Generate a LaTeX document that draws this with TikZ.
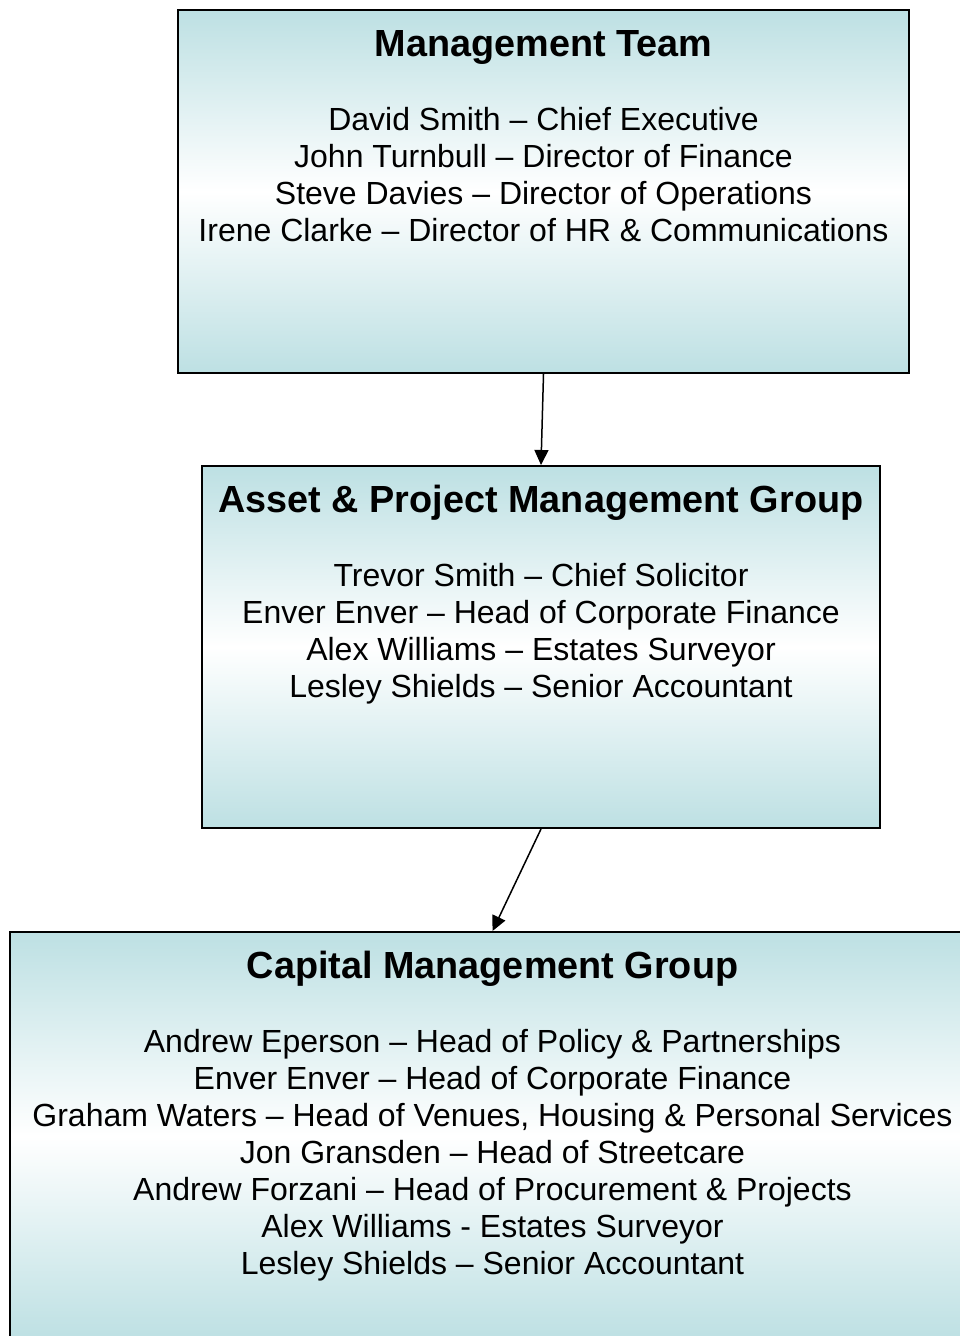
\documentclass[tikz,border=0pt]{standalone}
\usepackage{fontspec}
\setmainfont{Liberation Sans}
\usetikzlibrary{arrows.meta}
\definecolor{groupcyan}{RGB}{189,224,227}
\begin{document}
\begin{tikzpicture}[x=1pt,y=1pt]
  \tikzstyle{group}=[draw=black, line width=2pt, top color=groupcyan,
    bottom color=groupcyan, middle color=white, inner sep=0pt]
  \tikzstyle{title}=[anchor=base, inner sep=0pt, font=\fontsize{37.8}{42}\selectfont\bfseries]
  % base of a multi-line node is its last line
  \tikzstyle{members}=[anchor=base, inner sep=0pt, align=center,
    font=\fontsize{32}{37}\selectfont]
  \tikzstyle{link}=[line width=1.5pt, -{Triangle[length=15pt,width=14pt]}]
  \useasboundingbox (0,0) rectangle (960,-1336);

  \node[group, minimum width=731pt, minimum height=363pt] (mt) at (543.5,-191.5) {};
  \node[title] (mtTitle) at ([yshift=-47pt]mt.north) {Management Team};
  \node[members] (mtList) at ([yshift=-232.5pt]mt.north) {%
    David Smith -- Chief Executive\\
    John Turnbull -- Director of Finance\\
    Steve Davies -- Director of Operations\\
    Irene Clarke -- Director of HR \& Communications};

  \node[group, minimum width=678pt, minimum height=362pt] (apm) at (541,-647) {};
  \node[title] (apmTitle) at ([yshift=-47pt]apm.north) {Asset \& Project Management Group};
  \node[members] (apmList) at ([yshift=-232.5pt]apm.north) {%
    Trevor Smith -- Chief Solicitor\\
    Enver Enver -- Head of Corporate Finance\\
    Alex Williams -- Estates Surveyor\\
    Lesley Shields -- Senior Accountant};

  \node[group, minimum width=965pt, minimum height=408pt] (cmg) at (492.5,-1136) {};
  \node[title] (cmgTitle) at ([yshift=-47pt]cmg.north) {Capital Management Group};
  \node[members] (cmgList) at ([yshift=-343.5pt]cmg.north) {%
    Andrew Eperson -- Head of Policy \& Partnerships\\
    Enver Enver -- Head of Corporate Finance\\
    Graham Waters -- Head of Venues, Housing \& Personal Services\\
    Jon Gransden -- Head of Streetcare\\
    Andrew Forzani -- Head of Procurement \& Projects\\
    Alex Williams - Estates Surveyor\\
    Lesley Shields -- Senior Accountant};

  \draw[link] (mt.south) -- (apm.north);
  \draw[link] (apm.south) -- (cmg.north);
\end{tikzpicture}
\end{document}
